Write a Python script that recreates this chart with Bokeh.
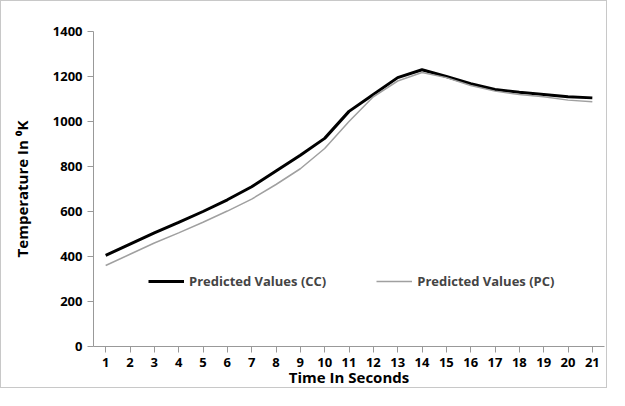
from bokeh.plotting import figure
from bokeh.models import Legend, LegendItem, FixedTicker
from bokeh.embed import file_html
from bokeh.resources import INLINE

seconds = list(range(1, 22))
cc = [405, 455, 505, 552, 600, 652, 710, 780, 850, 925, 1045, 1120, 1195, 1230, 1200, 1168, 1142, 1130, 1120, 1110, 1105]
pc = [360, 410, 460, 505, 552, 602, 655, 720, 790, 880, 1000, 1110, 1180, 1218, 1195, 1160, 1135, 1120, 1110, 1095, 1088]

p = figure(width=607, height=388, output_backend="svg", toolbar_location=None,
           x_range=(0.5, 21.5), y_range=(0, 1400))
p.styles = {"border": "1px solid #c8c8c8"}
p.outline_line_color = None
p.min_border_left = 92
p.min_border_top = 30
p.min_border_right = 4
p.min_border_bottom = 6
F = "Open Sans"
l1 = p.line(seconds, cc, line_color="black", line_width=3)
l2 = p.line(seconds, pc, line_color="#a0a0a0", line_width=1.5)
p.xgrid.visible = False
p.ygrid.visible = False
p.xaxis.ticker = FixedTicker(ticks=seconds)
p.yaxis.ticker = FixedTicker(ticks=list(range(0, 1401, 200)))
for ax in (p.xaxis[0], p.yaxis[0]):
    ax.axis_line_color = "#999999"
    ax.major_tick_line_color = "#999999"
    ax.minor_tick_line_color = None
    ax.major_label_text_font = F
    ax.major_label_text_font_style = "bold"
    ax.major_label_text_font_size = "13px"
    ax.major_label_text_color = "black"
    ax.axis_label_text_font = F
    ax.axis_label_text_font_style = "bold"
    ax.axis_label_text_font_size = "15px"
    ax.axis_label_text_color = "black"
p.xaxis.axis_label = "Time In Seconds"
p.yaxis.axis_label = "Temperature In ⁰K"
p.xaxis.axis_label_standoff = -3
p.yaxis.axis_label_standoff = 18
p.xaxis.major_tick_in = 0
p.yaxis.major_tick_in = 0
leg = Legend(items=[LegendItem(label="Predicted Values (CC)", renderers=[l1]),
                    LegendItem(label="Predicted Values (PC)", renderers=[l2])],
             orientation="horizontal", location=(55, 55), border_line_color=None,
             background_fill_alpha=0, label_text_font=F, label_text_font_style="bold",
             label_text_font_size="13px", glyph_width=36, spacing=50)
p.add_layout(leg)
open("out.html", "w").write(file_html(p, INLINE))
